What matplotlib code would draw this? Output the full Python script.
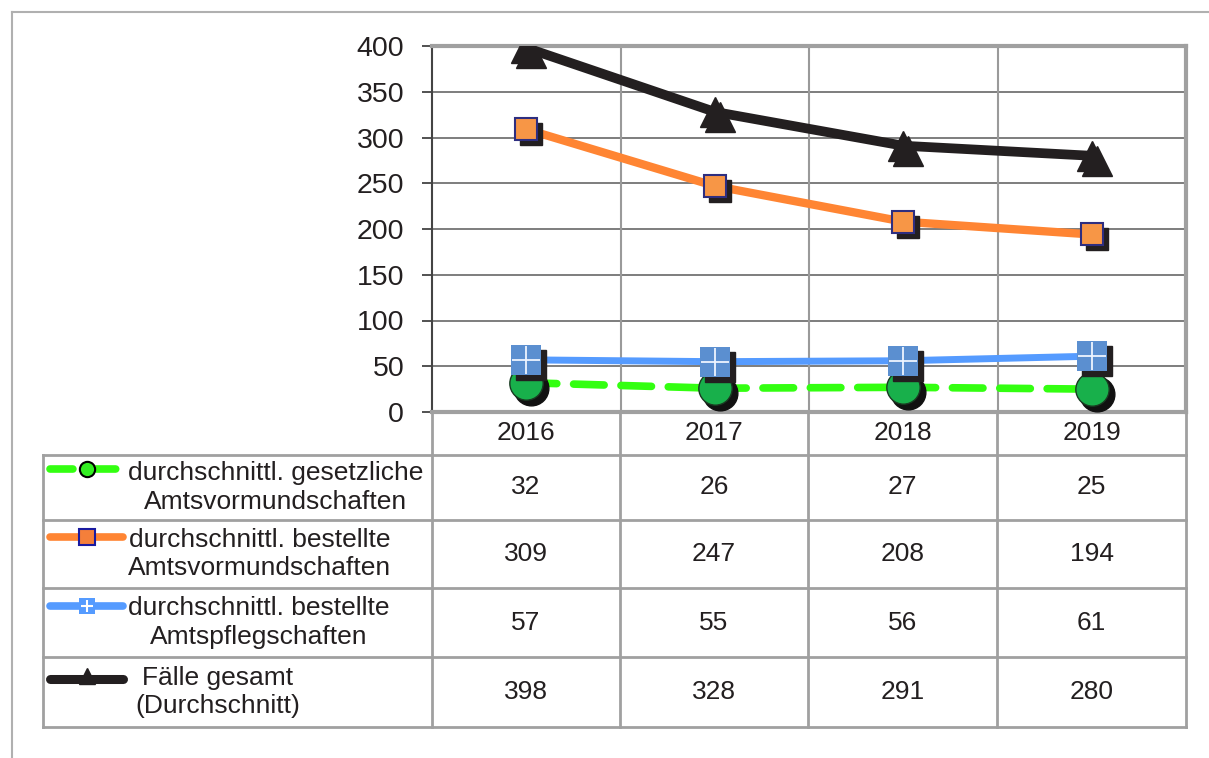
import matplotlib
matplotlib.use("Agg")
import matplotlib.pyplot as plt
from matplotlib.lines import Line2D
from matplotlib.transforms import offset_copy

plt.rcParams['font.family'] = ['Liberation Sans', 'DejaVu Sans']

years = ["2016", "2017", "2018", "2019"]
gesetzliche = [32, 26, 27, 25]
bestellte_vormund = [309, 247, 208, 194]
bestellte_pfleg = [57, 55, 56, 61]
gesamt = [398, 328, 291, 280]

series_labels = [
    "durchschnittl. gesetzliche\nAmtsvormundschaften",
    "durchschnittl. bestellte\nAmtsvormundschaften",
    "durchschnittl. bestellte\nAmtspflegschaften",
    "Fälle gesamt\n(Durchschnitt)",
]
y_ticks = [0, 50, 100, 150, 200, 250, 300, 350, 400]

W, H = 1209, 758
fig = plt.figure(figsize=(W / 100, H / 100), dpi=100)


def fx(px):
    return px / W


def fy(py):
    return 1 - py / H


FS = 19
GRID_H = "#5a5a5a"
GRID_V = "#9a9a9a"
FRAME = "#a0a0a0"
TXT = "#231f20"

# outer frame
fig.add_artist(Line2D([fx(12), fx(1209)], [fy(12), fy(12)], color="#b0b0b0", lw=1.5))
fig.add_artist(Line2D([fx(12), fx(12)], [fy(12), fy(758)], color="#b0b0b0", lw=1.5))

# plot area
L, R, T, B = 432, 1186, 46, 412
ax = fig.add_axes([fx(L), fy(B), fx(R) - fx(L), fy(T) - fy(B)])
ax.set_xlim(-0.5, 3.5)
ax.set_ylim(0, 400)
ax.set_yticks(y_ticks)
ax.set_yticklabels([str(v) for v in y_ticks], fontsize=20.5, color=TXT)
ax.tick_params(axis='y', direction='out', length=7, width=1.2, color="#333333", pad=13)
ax.set_xticks([])
for v in y_ticks[1:-1]:
    ax.axhline(v, color=GRID_H, lw=1.1, zorder=0)
for xb in [0.5, 1.5, 2.5]:
    ax.axvline(xb, color=GRID_V, lw=1.5, zorder=0)
ax.spines['left'].set_color("#444444")
ax.spines['left'].set_linewidth(1.5)
for s in ['top', 'right', 'bottom']:
    ax.spines[s].set_color(FRAME)
    ax.spines[s].set_linewidth(3)

xs = range(len(years))
shadow = offset_copy(ax.transData, fig=fig, x=5, y=-5, units='dots')

# green dashed series
ax.plot(xs, gesetzliche, color="#33ff11", lw=5.5, ls=(0, (4, 2.2)),
        dash_capstyle='round', zorder=2)
ax.plot(xs, gesetzliche, ls='none', marker='o', ms=25, color="#111111",
        transform=shadow, zorder=3)
ax.plot(xs, gesetzliche, ls='none', marker='o', ms=24, mfc="#18b04b",
        mec="#1a3a22", mew=1, zorder=4)

# orange series
ax.plot(xs, bestellte_vormund, color="#ff8533", lw=6, zorder=2,
        solid_capstyle='round')
ax.plot(xs, bestellte_vormund, ls='none', marker='s', ms=16.5, color="#231f20",
        transform=shadow, zorder=3)
ax.plot(xs, bestellte_vormund, ls='none', marker='s', ms=16.5, mfc="#f79646",
        mec="#2e2e80", mew=1.5, zorder=4)

# blue series
ax.plot(xs, bestellte_pfleg, color="#559bff", lw=5, zorder=5,
        solid_capstyle='round')
ax.plot(xs, bestellte_pfleg, ls='none', marker='s', ms=22, color="#231f20",
        transform=shadow, zorder=5)
ax.plot(xs, bestellte_pfleg, ls='none', marker='s', ms=22, mfc="#5b8fd0",
        mec="#5b8fd0", mew=0, zorder=6)
ax.plot(xs, bestellte_pfleg, ls='none', marker='+', ms=20, mec="#eef4ff",
        mew=1.3, zorder=7)

# black series
ax.plot(xs, gesamt, color="#231f20", lw=7, zorder=8, solid_capstyle='round')
ax.plot(xs, gesamt, ls='none', marker='^', ms=21, color="#231f20",
        transform=shadow, zorder=8)
ax.plot(xs, gesamt, ls='none', marker='^', ms=21, color="#231f20", zorder=9)

# data table
TL = 43
col_edges = [432, 620, 808, 997, 1186]
row_edges = [412, 455, 520, 588, 657, 727]
TBL = "#a0a0a0"

for xe in col_edges[1:]:
    fig.add_artist(Line2D([fx(xe), fx(xe)], [fy(412), fy(727)], color=TBL, lw=2))
fig.add_artist(Line2D([fx(432), fx(432)], [fy(412), fy(727)], color=TBL, lw=2))
fig.add_artist(Line2D([fx(TL), fx(TL)], [fy(455), fy(727)], color=TBL, lw=2))
for ye in row_edges[1:]:
    fig.add_artist(Line2D([fx(TL), fx(1186)], [fy(ye), fy(ye)], color=TBL, lw=2))

centers = [(col_edges[i] + col_edges[i + 1]) / 2 for i in range(4)]
for cx, yr in zip(centers, years):
    fig.text(fx(cx), fy(433), yr, fontsize=FS, color=TXT, ha='center', va='center')

table_rows = [gesetzliche, bestellte_vormund, bestellte_pfleg, gesamt]
for r, vals in enumerate(table_rows):
    cy = (row_edges[r + 1] + row_edges[r + 2]) / 2
    for cx, v in zip(centers, vals):
        fig.text(fx(cx), fy(cy), str(v), fontsize=FS, color=TXT, ha='center', va='center')
    fig.text(fx(128) if r < 3 else fx(135), fy(cy), series_labels[r], fontsize=FS,
             color=TXT, ha='left', va='center', multialignment='center',
             linespacing=1.25)

# legend keys in the table
kx0, kx1, kmid = 50, 123, 87
ky = [469, 537, 606, 679]
fig.add_artist(Line2D([fx(kx0), fx(kx1)], [fy(ky[0]), fy(ky[0])], color="#33ff11",
                      lw=5.5, ls=(0, (3, 2.6)), dash_capstyle='round'))
fig.add_artist(Line2D([fx(kmid)], [fy(ky[0])], marker='o', ms=11, mfc="#33ee22",
                      mec="black", mew=1.5, ls='none'))
fig.add_artist(Line2D([fx(kx0), fx(kx1)], [fy(ky[1]), fy(ky[1])], color="#ff8533",
                      lw=5.5, solid_capstyle='round'))
fig.add_artist(Line2D([fx(kmid)], [fy(ky[1])], marker='s', ms=11, mfc="#f57f3a",
                      mec="#1a1aa0", mew=1.5, ls='none'))
fig.add_artist(Line2D([fx(kx0), fx(kx1)], [fy(ky[2]), fy(ky[2])], color="#559bff",
                      lw=5.5, solid_capstyle='round'))
fig.add_artist(Line2D([fx(kmid)], [fy(ky[2])], marker='s', ms=12, mfc="#559bff",
                      mec="#559bff", mew=0, ls='none'))
fig.add_artist(Line2D([fx(kmid)], [fy(ky[2])], marker='+', ms=9, mec="white",
                      mew=1.5, ls='none'))
fig.add_artist(Line2D([fx(kx0), fx(kx1)], [fy(ky[3]), fy(ky[3])], color="#231f20",
                      lw=6.5, solid_capstyle='round'))
fig.add_artist(Line2D([fx(kmid)], [fy(ky[3]) + 0.004], marker='^', ms=12,
                      color="#231f20", ls='none'))

fig.savefig("out.png", dpi=100)
